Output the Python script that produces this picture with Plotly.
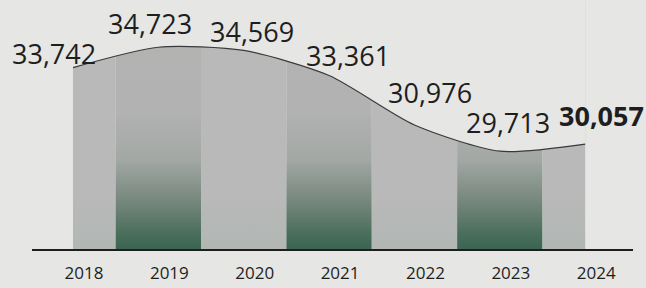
import plotly.graph_objects as go

years = ['2018', '2019', '2020', '2021', '2022', '2023', '2024']
values = [33742, 34723, 34569, 33361, 30976, 29713, 30057]
y_min, y_max = 25000, 37000

# label offsets (styling, pixels)
label_dx = [-19, -8, 8, 19, 16, 8, 16]
label_dy = [14, 24, 19, 20, 33, 29, 29]

BG = '#e6e6e4'
DARK_SCALE = [[0, '#3a6552'], [0.06, '#4a6e5c'], [0.18, '#72857a'], [0.36, '#a3a8a5'], [0.55, '#b1b2b1'], [1, '#b3b3b2']]
LIGHT_SCALE = [[0, '#b2b7b4'], [0.2, '#b8b9b8'], [1, '#b9b9b8']]

n = len(values)
xs = list(range(n))

fig = go.Figure()

# vertical bands
for i in range(n):
    x0 = max(i - 0.5, 0)
    x1 = min(i + 0.5, n - 1)
    scale = DARK_SCALE if i % 2 == 1 else LIGHT_SCALE
    fig.add_trace(go.Scatter(
        x=[x0, x1, x1, x0, x0], y=[y_min, y_min, y_max, y_max, y_min],
        mode='lines', line=dict(width=0), fill='toself',
        fillgradient=dict(type='vertical', colorscale=scale, start=y_min, stop=y_max),
        hoverinfo='skip', showlegend=False))

# mask above curve
fig.add_trace(go.Scatter(x=[0, n - 1], y=[y_max, y_max], mode='lines',
                         line=dict(width=0), hoverinfo='skip', showlegend=False))
fig.add_trace(go.Scatter(x=xs, y=values, mode='lines',
                         line=dict(color='#3a3a3a', width=1.2, shape='spline', smoothing=0.7),
                         fill='tonexty', fillcolor=BG, showlegend=False))

for i, v in enumerate(values):
    last = i == n - 1
    fig.add_annotation(x=i, y=v, text=f'<b>{v:,}</b>' if last else f'{v:,}',
                       showarrow=False, xshift=label_dx[i], yshift=label_dy[i],
                       font=dict(family='Open Sans', size=27, color='#1e1e1e'))

fig.update_layout(
    width=646, height=288,
    margin=dict(l=32, r=13, t=0, b=39),
    paper_bgcolor=BG, plot_bgcolor=BG,
    xaxis=dict(range=[-0.48, 6.56], tickvals=xs, ticktext=years,
               showgrid=False, zeroline=False, showline=True, linecolor='#1e1e1e', linewidth=2,
               ticks='', ticklabelshift=11, ticklabelstandoff=8,
               tickfont=dict(family='Open Sans', size=17, color='#1e1e1e')),
    yaxis=dict(range=[y_min, y_max], visible=False, showgrid=False, zeroline=False),
)

fig.write_html('out.html', config={'displayModeBar': False},
               post_script="document.body.style.margin='0';")
